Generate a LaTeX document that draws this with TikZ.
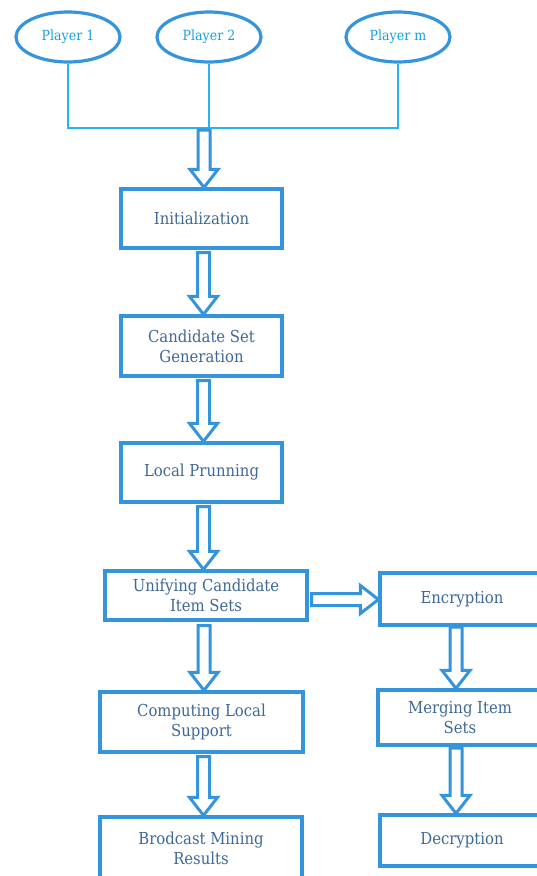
\documentclass[tikz,border=0pt]{standalone}
\usepackage{fontspec}
\setmainfont{DejaVu Serif Condensed}
\usetikzlibrary{calc,shapes.geometric}
\definecolor{boxblue}{RGB}{52,148,220}
\definecolor{txtblue}{RGB}{62,104,150}
\definecolor{cyanline}{RGB}{40,180,238}
\definecolor{cyantxt}{RGB}{20,160,225}
\tikzset{
  stepbox/.style={draw=boxblue,line width=3.2pt,align=center,text=txtblue,font=\fontsize{16.5}{20}\selectfont,inner sep=0pt},
  player/.style={draw=boxblue,line width=3.2pt,ellipse,text=cyantxt,font=\fontsize{14}{16}\selectfont,minimum width=104pt,minimum height=50pt,inner sep=0pt},
  bigarrow/.style={draw=boxblue,line width=3pt,line join=miter,fill=white},
  thin/.style={draw=cyanline,line width=1.3pt}
}
\newcommand\darrowV[2]{%
  \path[bigarrow] ($(#1)+(-6,0)$) -- ($(#1 |- #2)+(-6,-18)$) -- ($(#1 |- #2)+(-14,-18)$) -- (#1 |- #2) -- ($(#1 |- #2)+(14,-18)$) -- ($(#1 |- #2)+(6,-18)$) -- ($(#1)+(6,0)$) -- cycle;}
\newcommand\darrowH[2]{%
  \path[bigarrow] ($(#1)+(0,-6)$) -- ($(#2 |- #1)+(-18,-6)$) -- ($(#2 |- #1)+(-18,-14)$) -- (#2 |- #1) -- ($(#2 |- #1)+(-18,14)$) -- ($(#2 |- #1)+(-18,6)$) -- ($(#1)+(0,6)$) -- cycle;}
\begin{document}
\begin{tikzpicture}[x=1pt,y=-1pt]
\useasboundingbox (0,0) rectangle (537,876);
\clip (0,0) rectangle (537,876);
% players
\node[player] (p1) at (68,37) {Player 1};
\node[player] (p2) at (209,37) {Player 2};
\node[player] (pm) at (398,37) {Player m};
\coordinate (bus) at (204,128);
\draw[thin] (p1.south) -- (p1.south |- bus) -- (pm.south |- bus) -- (pm.south);
\draw[thin] (p2.south) -- (p2.south |- bus);
% left column
\node[stepbox,minimum width=161pt,minimum height=59pt] (init) at (201.5,218.5) {Initialization};
\node[stepbox,minimum width=161pt,minimum height=60pt] (cand) at (201.5,346) {Candidate Set\\Generation};
\node[stepbox,minimum width=161pt,minimum height=59pt] (prun) at (201.5,472.5) {Local Prunning};
\node[stepbox,minimum width=202pt,minimum height=49pt] (unif) at (206,595.5) {Unifying Candidate\\Item Sets};
\node[stepbox,minimum width=203pt,minimum height=60pt] (comp) at (201.5,722) {Computing Local\\Support};
\node[stepbox,minimum width=202pt,minimum height=62pt] (brod) at (201,848) {Brodcast Mining\\Results};
% right column
\node[stepbox,minimum width=164pt,minimum height=52pt] (enc) at (462,599) {Encryption};
\node[stepbox,minimum width=164pt,minimum height=55pt] (merg) at (460,717.5) {Merging Item\\Sets};
\node[stepbox,minimum width=164pt,minimum height=51pt] (decr) at (462,840.5) {Decryption};
% arrows
\coordinate (a0) at (204,130);
\darrowV{a0}{init.north}
\coordinate (a1) at ($(init.south)+(2,3)$);
\darrowV{a1}{cand.north}
\coordinate (a2) at ($(cand.south)+(2,3)$);
\darrowV{a2}{prun.north}
\coordinate (a3) at ($(prun.south)+(2,3)$);
\darrowV{a3}{unif.north}
\coordinate (a4) at ($(unif.south)+(-2,4)$);
\darrowV{a4}{comp.north}
\coordinate (a5) at ($(comp.south)+(2,3)$);
\darrowV{a5}{brod.north}
\coordinate (h0) at ($(unif.east)+(3,4)$);
\darrowH{h0}{enc.west}
\coordinate (a6) at (456,627);
\darrowV{a6}{merg.north}
\coordinate (a7) at (456,748);
\darrowV{a7}{decr.north}
\end{tikzpicture}
\end{document}
